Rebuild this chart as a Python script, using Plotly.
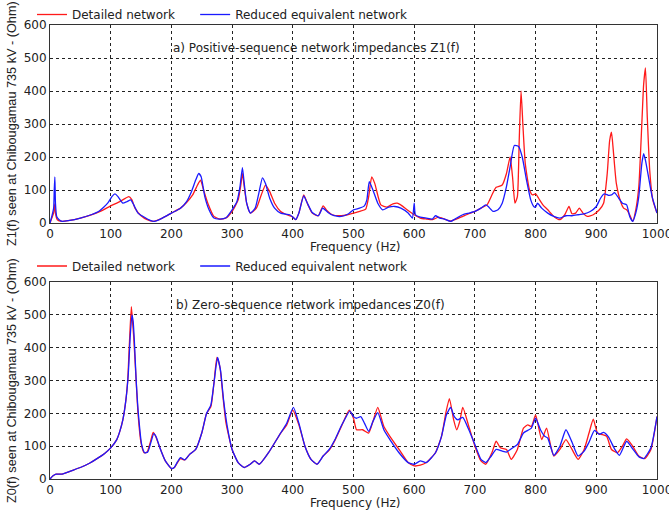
import plotly.graph_objects as go

# Z1(f) - positive sequence, detailed network (red)
z1_det_f = [0, 3, 6, 8, 9, 12, 20, 30, 50, 80, 100, 115, 130, 135, 140, 150, 160, 170, 185, 200,
            215, 225, 235, 243, 248, 253, 260, 270, 280, 290, 300, 310, 314, 317, 320, 324, 330, 340,
            348, 355, 362, 370, 380, 390, 400, 405, 410, 418, 425, 432, 442, 450, 456, 465, 480, 490,
            500, 510, 520, 525, 530, 535, 545, 555, 565, 572, 580, 590, 600, 610, 620, 630, 640, 650,
            660, 670, 680, 690, 700, 710, 720, 728, 735, 745, 752, 758, 762, 766, 770, 773, 776, 779,
            783, 790, 795, 800, 805, 812, 820, 830, 840, 848, 855, 860, 866, 872, 878, 885, 895, 905,
            912, 918, 922, 925, 928, 933, 940, 945, 950, 955, 960, 965, 970, 975, 978, 981, 984, 988,
            993, 1000]
z1_det = [0, 15, 30, 58, 30, 10, 5, 7, 15, 33, 52, 65, 80, 70, 45, 22, 10, 5, 15, 30,
          45, 62, 85, 115, 130, 100, 60, 20, 12, 15, 35, 70, 110, 150, 110, 60, 30, 45,
          85, 115, 95, 60, 35, 25, 18, 10, 30, 85, 55, 30, 22, 52, 38, 25, 22, 25,
          30, 35, 42, 80, 140, 120, 55, 48, 58, 60, 52, 38, 25, 15, 12, 10, 18, 12,
          6, 12, 20, 28, 35, 45, 55, 85, 108, 115, 150, 200, 140, 60, 80, 250, 400, 300,
          180, 100, 85, 88, 75, 55, 40, 20, 10, 25, 50, 28, 30, 45, 30, 20, 25, 40,
          60, 150, 250, 275, 220, 120, 65, 45, 40, 25, 5, 40, 110, 300, 420, 470, 320, 160,
          70, 30]

# Z1(f) - reduced equivalent network (blue)
z1_red_f = [0, 3, 6, 7, 8, 9, 11, 15, 20, 30, 50, 80, 95, 102, 107, 112, 120, 127, 133, 138,
            145, 155, 165, 172, 185, 200, 215, 225, 233, 240, 245, 249, 255, 262, 270, 280, 290, 300,
            308, 313, 317, 320, 324, 330, 338, 344, 350, 355, 362, 370, 380, 395, 400, 405, 410, 418,
            424, 432, 442, 449, 452, 458, 468, 480, 492, 500, 510, 518, 522, 526, 532, 540, 548, 558,
            568, 578, 590, 597, 600, 602, 610, 620, 630, 635, 642, 650, 660, 670, 680, 690, 700, 710,
            718, 722, 730, 738, 745, 752, 758, 765, 772, 778, 785, 792, 797, 800, 803, 810, 820, 830,
            840, 850, 860, 870, 880, 890, 900, 907, 913, 920, 925, 930, 937, 943, 950, 955, 960, 965,
            970, 975, 978, 981, 986, 992, 1000]
z1_red = [0, 20, 45, 100, 140, 60, 20, 10, 5, 7, 15, 35, 60, 80, 88, 80, 60, 65, 70, 55,
          30, 18, 8, 5, 15, 30, 45, 65, 95, 130, 150, 140, 80, 40, 15, 12, 16, 40,
          65, 110, 168, 120, 60, 30, 45, 90, 137, 120, 75, 45, 30, 25, 18, 10, 30, 82,
          60, 32, 22, 45, 42, 32, 22, 20, 28, 40, 45, 52, 70, 125, 100, 60, 40, 48,
          50, 45, 30, 15, 60, 25, 18, 15, 12, 22, 15, 12, 5, 15, 25, 30, 35, 45,
          55, 50, 35, 40, 60, 110, 170, 235, 232, 200, 130, 70, 50, 48, 60, 45, 30, 20,
          15, 22, 22, 25, 28, 35, 50, 75, 88, 84, 85, 92, 75, 60, 55, 20, 5, 30,
          80, 180, 210, 190, 140, 80, 30]

# Z0(f) - zero sequence, detailed network (red)
z0_det_f = [0, 5, 10, 20, 35, 50, 65, 80, 90, 100, 110, 115, 120, 125, 128, 131, 134, 136, 138, 141,
            145, 150, 155, 160, 165, 170, 174, 180, 190, 200, 205, 210, 215, 222, 230, 240, 250, 258,
            265, 270, 275, 280, 285, 290, 300, 310, 320, 330, 337, 345, 360, 380, 390, 400, 410, 420,
            430, 440, 450, 460, 470, 480, 493, 500, 505, 515, 525, 532, 540, 550, 560, 575, 590, 600,
            610, 620, 635, 645, 652, 658, 665, 670, 675, 680, 690, 700, 710, 718, 728, 735, 742, 752,
            760, 770, 780, 787, 793, 800, 810, 818, 825, 830, 840, 850, 860, 870, 880, 888, 895, 902,
            910, 917, 925, 935, 943, 950, 960, 970, 980, 990, 1000]
z0_det = [0, 10, 15, 15, 25, 35, 48, 65, 78, 95, 120, 145, 180, 240, 300, 420, 525, 480, 430, 330,
          200, 110, 80, 82, 110, 142, 130, 100, 55, 32, 35, 50, 62, 58, 75, 90, 140, 200,
          220, 290, 370, 340, 250, 170, 90, 50, 35, 45, 55, 45, 80, 140, 165, 210, 165, 100,
          60, 45, 70, 88, 120, 160, 210, 185, 150, 150, 140, 175, 218, 160, 130, 90, 50, 40,
          42, 50, 80, 130, 200, 245, 180, 150, 175, 218, 160, 100, 55, 45, 80, 115, 95, 90,
          60, 90, 155, 165, 160, 195, 120, 155, 100, 70, 90, 120, 90, 60, 90, 140, 182, 140,
          135, 130, 90, 80, 100, 122, 100, 70, 62, 90, 190]

# Z0(f) - reduced equivalent network (blue)
z0_red_f = [0, 5, 10, 20, 35, 50, 65, 80, 90, 100, 110, 115, 120, 125, 129, 132, 135, 137, 139, 142,
            146, 151, 156, 161, 166, 171, 175, 181, 190, 200, 205, 210, 215, 222, 230, 240, 250, 258,
            265, 270, 276, 281, 286, 292, 300, 310, 320, 330, 337, 345, 360, 380, 390, 401, 410, 420,
            430, 440, 450, 460, 470, 480, 494, 500, 505, 512, 518, 525, 532, 540, 550, 560, 575, 590,
            600, 610, 620, 635, 645, 653, 660, 666, 672, 680, 690, 700, 710, 718, 727, 735, 745, 752,
            760, 770, 780, 787, 793, 800, 808, 815, 820, 830, 840, 850, 860, 870, 880, 888, 897, 905,
            912, 920, 930, 938, 950, 960, 970, 978, 990, 1000]
z0_red = [0, 10, 15, 15, 25, 35, 48, 65, 78, 95, 120, 145, 180, 240, 320, 430, 500, 480, 420, 300,
          190, 105, 80, 82, 110, 138, 128, 95, 55, 32, 36, 52, 65, 58, 75, 90, 140, 200,
          225, 290, 370, 330, 240, 160, 90, 50, 35, 45, 55, 45, 80, 140, 170, 218, 170, 100,
          60, 45, 70, 90, 122, 162, 207, 190, 185, 190, 170, 145, 175, 202, 150, 120, 80, 50,
          45, 55, 50, 80, 130, 195, 218, 190, 180, 188, 150, 105, 60, 50, 70, 90, 85, 82,
          92, 105, 140, 148, 155, 185, 150, 130, 125, 72, 100, 150, 112, 70, 85, 112, 148, 136,
          142, 128, 92, 72, 115, 92, 68, 62, 95, 190]

# trailing no-break spaces only widen the gap between the two legend entries
legend_names = ["Detailed network\u00a0\u00a0\u00a0\u00a0", "Reduced equivalent network"]
x_ticks = [0, 100, 200, 300, 400, 500, 600, 700, 800, 900, 1000]
y_ticks = [0, 100, 200, 300, 400, 500, 600]

RED = "#ff1a1a"
BLUE = "#1a1aff"
FONT = "DejaVu Sans"
FS = 12

fig = go.Figure()

panels = [
    (z1_det_f, z1_det, z1_red_f, z1_red, "x", "y", "legend"),
    (z0_det_f, z0_det, z0_red_f, z0_red, "x2", "y2", "legend2"),
]
for det_f, det, red_f, red, xa, ya, lg in panels:
    fig.add_trace(go.Scatter(x=det_f, y=det, mode="lines", name=legend_names[0],
                             line=dict(color=RED, width=1.3, shape="spline", smoothing=0.5),
                             xaxis=xa, yaxis=ya, legend=lg))
    fig.add_trace(go.Scatter(x=red_f, y=red, mode="lines", name=legend_names[1],
                             line=dict(color=BLUE, width=1.3, shape="spline", smoothing=0.5),
                             xaxis=xa, yaxis=ya, legend=lg))

W, H = 669, 512
x_dom = [50 / W, 657 / W]
top_dom = [1 - 223 / H, 1 - 25 / H]
bot_dom = [1 - 479 / H, 1 - 282 / H]

axis_common = dict(
    showline=True, linecolor="#333333", linewidth=1, mirror=True,
    showgrid=True, gridcolor="#222222", griddash="dot", gridwidth=1,
    zeroline=False, ticks="",
    automargin=False, ticklabeloverflow="allow",
    tickfont=dict(family=FONT, size=FS, color="#222222"),
)

legend_common = dict(orientation="h", x=32 / W, xanchor="left",
                     font=dict(family=FONT, size=FS), bgcolor="rgba(0,0,0,0)", itemwidth=30)


def note(text, x, y, **kw):
    return dict(text=text, x=x / W, y=1 - y / H, xref="paper", yref="paper",
                showarrow=False, xanchor="center", yanchor="middle", **kw)


ytitle_font = dict(family="Liberation Sans", size=12.7, color="#222222")

fig.update_layout(
    width=W, height=H,
    margin=dict(l=0, r=0, t=0, b=0),
    paper_bgcolor="white", plot_bgcolor="white",
    font=dict(family=FONT, size=FS, color="#222222"),
    xaxis=dict(domain=x_dom, anchor="y", range=[0, 1000], tickvals=x_ticks, **axis_common),
    yaxis=dict(domain=top_dom, anchor="x", range=[0, 600], tickvals=y_ticks, **axis_common),
    xaxis2=dict(domain=x_dom, anchor="y2", range=[0, 1000], tickvals=x_ticks, **axis_common),
    yaxis2=dict(domain=bot_dom, anchor="x2", range=[0, 600], tickvals=y_ticks, **axis_common),
    # top-anchored at the paper edge so the legend does not push the top margin
    legend=dict(y=1, yanchor="top", **legend_common),
    legend2=dict(y=1 - 266 / H, yanchor="middle", **legend_common),
    annotations=[
        note("a) Positive-sequence network impedances Z1(f)", 316, 48),
        note("b) Zero-sequence network impedances Z0(f)", 310, 305),
        note("Frequency (Hz)", 355, 247),
        note("Frequency (Hz)", 355, 503),
        note("Z1(f) seen at Chibougamau 735 kV - (Ohm)", 12, 124, textangle=-90, font=ytitle_font),
        note("Z0(f) seen at Chibougamau 735 kV - (Ohm)", 12, 381, textangle=-90, font=ytitle_font),
    ],
)

# drop the default page margin so the 669x512 figure sits at the window origin
fig.write_html("out.html", config={"displayModeBar": False},
               post_script="document.body.style.margin='0';")
